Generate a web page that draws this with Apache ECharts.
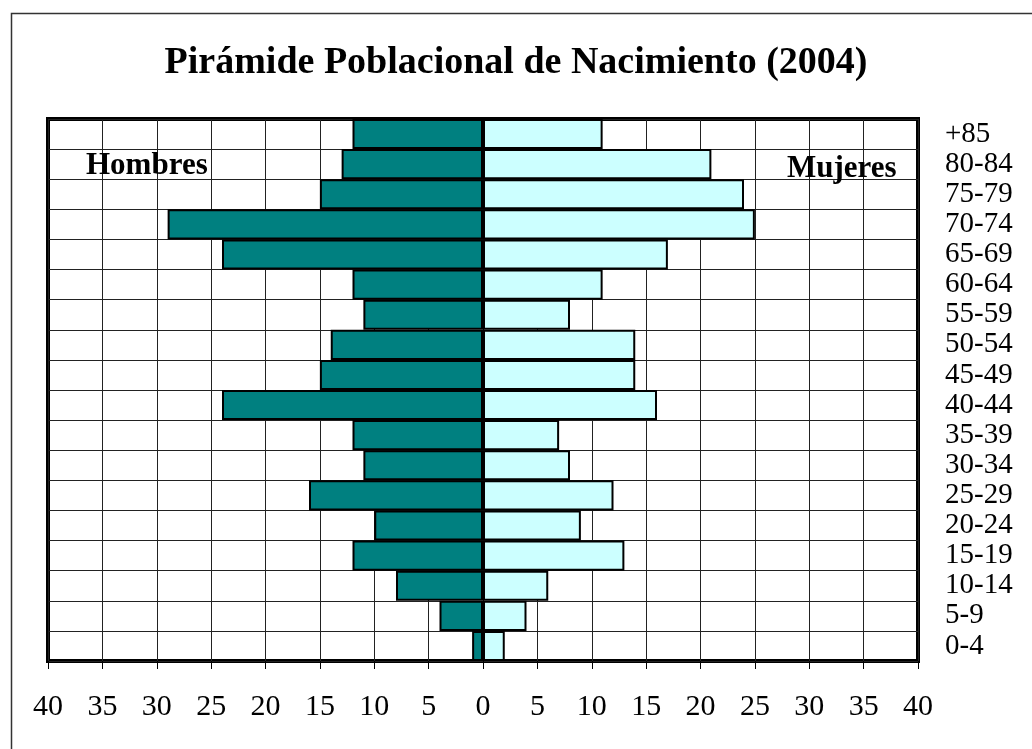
<!DOCTYPE html>
<html>
<head>
<meta charset="utf-8">
<style>
  html, body { margin: 0; padding: 0; background: #fff; }
  #main { width: 1032px; height: 749px; }
</style>
<script src="https://cdn.jsdelivr.net/npm/echarts@6/dist/echarts.min.js"></script>
</head>
<body>
<div id="main"></div>
<script>
// grupos de edad, de arriba hacia abajo
var grupos = ["+85", "80-84", "75-79", "70-74", "65-69", "60-64", "55-59", "50-54", "45-49",
              "40-44", "35-39", "30-34", "25-29", "20-24", "15-19", "10-14", "5-9", "0-4"];
var hombres = [12, 13, 15, 29, 24, 12, 11, 14, 15, 24, 12, 11, 16, 10, 12, 8, 4, 1];
var mujeres = [11, 21, 24, 25, 17, 11, 8, 14, 14, 16, 7, 8, 12, 9, 13, 6, 4, 2];
var ticksX = [-40, 40, 5];

var fuente = "'Liberation Serif', 'DejaVu Serif', serif";

var chart = echarts.init(document.getElementById("main"));

chart.setOption({
    backgroundColor: "#ffffff",
    animation: false,
    graphic: [
        // marco exterior (solo se ven los bordes superior e izquierdo)
        { type: "rect", left: 9, top: 11, shape: { width: 1200, height: 900 },
          style: { fill: "none", stroke: "#333", lineWidth: 1.5 }, z: -1 }
    ],
    title: [
        { text: "Pirámide Poblacional de Nacimiento (2004)", left: "center", top: 39,
          textStyle: { fontFamily: fuente, fontSize: 38, fontWeight: "bold", color: "#000" } },
        { text: "Hombres", left: 81, top: 145,
          textStyle: { fontFamily: fuente, fontSize: 31, fontWeight: "bold", color: "#000" } },
        { text: "Mujeres", left: 782, top: 148,
          textStyle: { fontFamily: fuente, fontSize: 31, fontWeight: "bold", color: "#000" } }
    ],
    grid: {
        left: 48, right: 114, top: 119, bottom: 88,
        show: true, borderColor: "#000", borderWidth: 4, containLabel: false
    },
    xAxis: {
        type: "value",
        min: ticksX[0], max: ticksX[1], interval: ticksX[2],
        axisLine: { show: false },
        axisTick: { show: true, length: 8, lineStyle: { color: "#000", width: 1 } },
        axisLabel: {
            margin: 31, color: "#000", fontFamily: fuente, fontSize: 30,
            formatter: function (v) { return Math.abs(v); }
        },
        splitLine: { show: true, lineStyle: { color: "#222", width: 1 } }
    },
    yAxis: {
        type: "category",
        data: grupos,
        inverse: true,
        position: "right",
        axisLine: { show: false },
        axisTick: { show: false },
        axisLabel: {
            interval: 0, hideOverlap: false,
            margin: 27, align: "left", color: "#000", fontFamily: fuente, fontSize: 29
        },
        splitLine: { show: true, interval: 0, lineStyle: { color: "#222", width: 1 } }
    },
    series: [
        {
            name: "Hombres", type: "bar",
            data: hombres.map(function (v) { return -v; }),
            barWidth: "100%", barGap: "-100%",
            itemStyle: { color: "#008080", borderColor: "#000", borderWidth: 2 }
        },
        {
            name: "Mujeres", type: "bar",
            data: mujeres,
            barWidth: "100%", barGap: "-100%",
            itemStyle: { color: "#ccffff", borderColor: "#000", borderWidth: 2 }
        }
    ]
});
</script>
</body>
</html>
